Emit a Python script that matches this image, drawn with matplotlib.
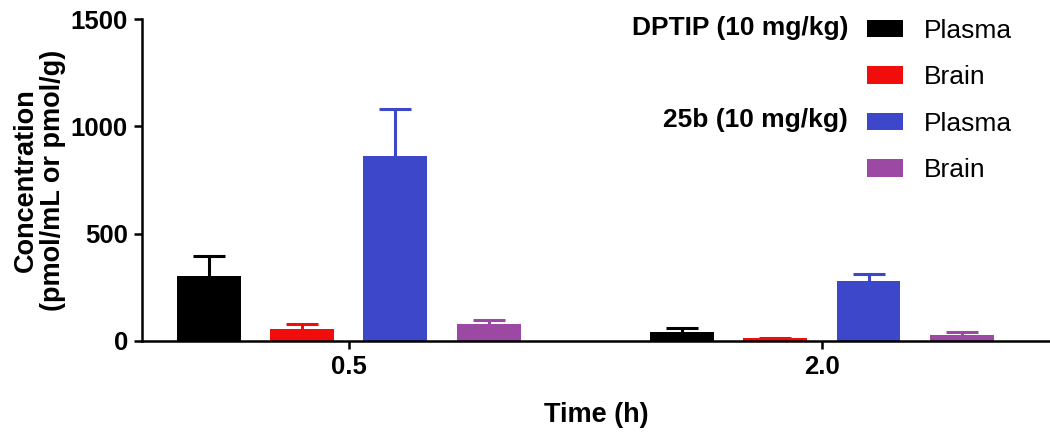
import numpy as np
import matplotlib
matplotlib.use('Agg')
from matplotlib import pyplot as plt

# data
zeiten = ['0.5', '2.0']
serien = ['Plasma', 'Brain', 'Plasma', 'Brain']
farben = ['#000000', '#f20d0d', '#3d47c9', '#9b49a3']
werte = [
    [303, 44],   # DPTIP plasma
    [56, 12],    # DPTIP brain
    [862, 280],  # 25b plasma
    [79, 28],    # 25b brain
]
fehler = [
    [93, 16],
    [23, 0],
    [219, 32],
    [19, 12],
]

plt.rcParams['font.family'] = ['Liberation Sans', 'DejaVu Sans']

fig = plt.figure(figsize=(10.5, 4.38), dpi=100)
ax = fig.add_axes([0.135, 0.2215, 0.865, 0.7351])

x = np.arange(len(zeiten))
abstand = 0.197
breite = 0.135
handles = []
for i in range(len(serien)):
    pos = x + (i - 1.5) * abstand
    b = ax.bar(pos, werte[i], width=breite, color=farben[i], label=serien[i], zorder=2)
    handles.append(b)
    err = np.array(fehler[i])
    eb = ax.errorbar(pos, werte[i], yerr=[np.zeros_like(err), err], fmt='none',
                     ecolor=farben[i], elinewidth=2.2, capsize=11.5, capthick=2.2, zorder=1)
    # nur obere kappe zeigen
    eb[1][0].set_visible(False)

ax.set_xlim(-0.4376, 1.482)
ax.set_ylim(0, 1500)
ax.set_yticks([0, 500, 1000, 1500])
ax.set_xticks(x)
ax.set_xticklabels(zeiten)
for s in ['top', 'right']:
    ax.spines[s].set_visible(False)
for s in ['left', 'bottom']:
    ax.spines[s].set_linewidth(1.8)
ax.tick_params(axis='both', width=1.8, length=6, labelsize=18.5, pad=4)
for lab in ax.get_xticklabels() + ax.get_yticklabels():
    lab.set_fontweight('bold')

ax.set_ylabel('Concentration\n(pmol/mL or pmol/g)', fontsize=19.5, fontweight='bold',
              labelpad=3, linespacing=1.1)
ax.set_xlabel('Time (h)', fontsize=19.5, fontweight='bold', labelpad=17)

leg = ax.legend(handles=handles, labels=serien, loc='upper left',
                bbox_to_anchor=(0.803, 1.011), bbox_transform=fig.transFigure,
                frameon=False, fontsize=19,
                handlelength=1.35, handleheight=0.65, handletextpad=0.8,
                labelspacing=0.85)

fig.text(848 / 1050, 1 - 28 / 438, 'DPTIP (10 mg/kg)', fontsize=19, fontweight='bold',
         ha='right', va='center')
fig.text(848 / 1050, 1 - 120 / 438, '25b (10 mg/kg)', fontsize=19, fontweight='bold',
         ha='right', va='center')

fig.savefig('out.png', dpi=100)
